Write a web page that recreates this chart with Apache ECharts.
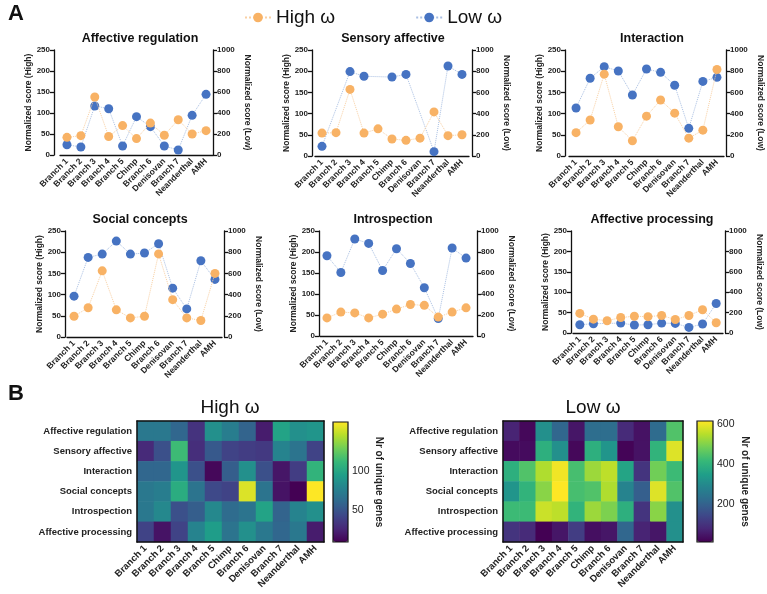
<!DOCTYPE html>
<html>
<head>
<meta charset="utf-8">
<script src="https://cdn.jsdelivr.net/npm/echarts@6/dist/echarts.min.js"></script>
<style>
html,body{margin:0;padding:0;background:#fff}
#main{width:767px;height:594px}
</style>
</head>
<body>
<div id="main"></div>
<script>
// categories
var categories = ['Branch 1','Branch 2','Branch 3','Branch 4','Branch 5','Chimp','Branch 6','Denisovan','Branch 7','Neanderthal','AMH'];
var domains = ['Affective regulation','Sensory affective','Interaction','Social concepts','Introspection','Affective processing'];

// normalized scores (high on left axis, low on right axis)
var highAffectiveRegulation = [42, 46, 138, 44, 70, 39, 76, 47, 84, 50, 58];
var lowAffectiveRegulation  = [98, 76, 467, 441, 86, 365, 270, 86, 48, 378, 578];
var highSensoryAffective    = [54, 55, 157, 54, 64, 40, 37, 42, 104, 48, 50];
var lowSensoryAffective     = [91, null, 796, 752, null, 745, 770, null, 41, 849, 770];
var highInteraction         = [55, 85, 193, 69, 36, 94, 132, 101, 42, 61, 204];
var lowInteraction          = [453, 733, 843, 802, 575, 821, 789, 667, 261, 704, 742];
var highSocialConcepts      = [49, 69, 156, 64, 45, 49, 196, 88, 45, 39, 150];
var lowSocialConcepts       = [385, 751, 782, 905, 782, 792, 880, 461, 265, 719, 543];
var highIntrospection       = [43, 57, 55, 43, 52, 64, 75, 73, 45, 57, 67];
var lowIntrospection        = [764, 605, 924, 882, 624, 831, 691, 459, 166, 838, 742];
var highAffectiveProcessing = [48, 34, 30, 38, 41, 40, 43, 33, 43, 57, 25];
var lowAffectiveProcessing  = [81, 91, null, 97, 78, 81, 97, 94, 55, 88, 289];

// nr of unique genes (rows = domains, cols = categories)
var highGenes = [
  [71, 71, 60, 32, 86, 74, 58, 21, 98, 86, 89],
  [27, 47, 114, 29, 52, 40, 37, 35, 78, 68, 40],
  [60, 60, 89, 47, 12, 55, 86, 47, 18, 37, 109],
  [71, 74, 104, 68, 43, 40, 155, 68, 17, 9, 163],
  [71, 81, 47, 55, 81, 63, 68, 98, 58, 78, 86],
  [40, 17, 40, 78, 94, 68, 86, 71, 60, 71, 21]
];
var lowGenes = [
  [70, 22, 312, 210, 46, 228, 228, 83, 40, 222, 446],
  [28, 28, 391, 312, 22, 391, 325, 16, 40, 403, 585],
  [391, 446, 542, 603, 434, 524, 555, 361, 101, 482, 421],
  [325, 403, 506, 615, 434, 446, 542, 282, 192, 585, 446],
  [421, 421, 567, 555, 403, 524, 494, 391, 101, 506, 312],
  [101, 83, 10, 46, 119, 34, 46, 210, 70, 46, 312]
];
var highRange = [9, 163];
var lowRange = [10, 615];
var highTicks = [50, 100];
var lowTicks = [200, 400, 600];

var FONT = 'Liberation Sans, Arial, sans-serif';
var ORANGE = '#f8b265', BLUE = '#4673c2';
var viridis = ['#440154','#482878','#3e4989','#31688e','#26828e','#1f9e89','#35b779','#6ece58','#b5de2b','#fde725'];

var panels = [
  ['Affective regulation', highAffectiveRegulation, lowAffectiveRegulation],
  ['Sensory affective', highSensoryAffective, lowSensoryAffective],
  ['Interaction', highInteraction, lowInteraction],
  ['Social concepts', highSocialConcepts, lowSocialConcepts],
  ['Introspection', highIntrospection, lowIntrospection],
  ['Affective processing', highAffectiveProcessing, lowAffectiveProcessing]
];
// left, top, width, height, left axis offset, right axis offset, title x, title y
var boxes = [
  [60, 50, 153, 105, 6, 0, 140, 32],
  [315, 50, 154, 106, 3, 3, 393, 32],
  [569, 50, 155, 106, 4, 2, 652, 32],
  [67, 231, 155, 106, 2, 2, 140, 213],
  [320, 231, 153, 105, 1, 4, 393, 213],
  [573, 231, 150, 102, 2, 2, 652, 213]
];

var axisCol = '#111';
var grids = [], xAxes = [], yAxes = [], series = [], titles = [];
function plain(v){ return String(v); }

titles.push({text:'A', left:8, top:3, padding:0, textStyle:{fontSize:22, fontWeight:'bold', fontFamily:FONT, color:'#111'}});
titles.push({text:'B', left:8, top:383, padding:0, textStyle:{fontSize:22, fontWeight:'bold', fontFamily:FONT, color:'#111'}});

panels.forEach(function(p, i){
  var b = boxes[i];
  grids.push({left:b[0], top:b[1], width:b[2], height:b[3], containLabel:false});
  titles.push({text:p[0], left:b[6], top:b[7], padding:0, textAlign:'center',
    textStyle:{fontSize:12.5, fontWeight:'bold', fontFamily:FONT, color:'#111'}});
  xAxes.push({
    gridIndex:i, type:'category', data:categories, boundaryGap:true,
    axisLine:{lineStyle:{color:axisCol, width:1.3}},
    axisTick:{alignWithLabel:true, length:4, lineStyle:{color:axisCol, width:1.3}},
    axisLabel:{rotate:45, interval:0, fontSize:8.5, fontWeight:'bold', color:'#222', fontFamily:FONT, margin:5}
  });
  yAxes.push({
    gridIndex:i, type:'value', min:0, max:250, interval:50, position:'left', offset:b[4],
    name:'Normalized score (High)', nameLocation:'middle', nameGap:21,
    nameTextStyle:{fontSize:8.5, fontWeight:'bold', color:'#222', fontFamily:FONT},
    axisLine:{show:true, lineStyle:{color:axisCol, width:1.3}},
    axisTick:{show:true, length:4, lineStyle:{color:axisCol, width:1.3}},
    splitLine:{show:false},
    axisLabel:{fontSize:8, fontWeight:'bold', color:'#222', fontFamily:FONT, margin:4, formatter:plain}
  });
  yAxes.push({
    gridIndex:i, type:'value', min:0, max:1000, interval:200, position:'right', offset:b[5],
    name:'Normalized score (Low)', nameLocation:'middle', nameGap:30, nameRotate:-90,
    nameTextStyle:{fontSize:8.5, fontWeight:'bold', color:'#222', fontFamily:FONT},
    axisLine:{show:true, lineStyle:{color:axisCol, width:1.3}},
    axisTick:{show:true, length:4, lineStyle:{color:axisCol, width:1.3}},
    splitLine:{show:false},
    axisLabel:{fontSize:8, fontWeight:'bold', color:'#222', fontFamily:FONT, margin:4, formatter:plain}
  });
  series.push({
    name:'Low ω', type:'line', xAxisIndex:i, yAxisIndex:2*i+1, data:p[2], connectNulls:true,
    symbol:'circle', symbolSize:9, z:2,
    itemStyle:{color:BLUE}, lineStyle:{color:'#a9bfe3', width:1, type:'dotted'}
  });
  series.push({
    name:'High ω', type:'line', xAxisIndex:i, yAxisIndex:2*i, data:p[1], connectNulls:true,
    symbol:'circle', symbolSize:9, z:3,
    itemStyle:{color:ORANGE}, lineStyle:{color:'#f9d0a3', width:1, type:'dotted'}
  });
});

// heatmaps
var heatBoxes = [[137, 421, 187, 121, 230, 'High ω'], [503, 421, 180, 121, 593, 'Low ω']];
var barBoxes = [[333, 422, 15, 120, 25], [697, 421, 16, 121, 27]];
var heatData = [highGenes, lowGenes];
var ranges = [highRange, lowRange];
var tickSets = [highTicks, lowTicks];

heatBoxes.forEach(function(h, k){
  var gi = grids.length;
  grids.push({left:h[0], top:h[1], width:h[2], height:h[3]});
  titles.push({text:h[5], left:h[4], top:398, padding:0, textAlign:'center',
    textStyle:{fontSize:19, fontWeight:'normal', fontFamily:FONT, color:'#111'}});
  var xi = xAxes.length;
  xAxes.push({
    gridIndex:gi, type:'category', data:categories, position:'bottom', z:10,
    axisLine:{lineStyle:{color:axisCol, width:1.5}},
    axisTick:{alignWithLabel:true, length:4, lineStyle:{color:axisCol, width:1.3}},
    axisLabel:{rotate:45, interval:0, fontSize:9.5, fontWeight:'bold', color:'#222', fontFamily:FONT, margin:5},
    splitLine:{show:false}
  });
  xAxes.push({
    gridIndex:gi, type:'category', data:categories, position:'top', z:10,
    axisLine:{lineStyle:{color:axisCol, width:1.5}}, axisTick:{show:false}, axisLabel:{show:false}
  });
  var yi = yAxes.length;
  yAxes.push({
    gridIndex:gi, type:'category', data:domains, inverse:true, position:'left', z:10,
    axisLine:{lineStyle:{color:axisCol, width:1.5}},
    axisTick:{alignWithLabel:true, length:4, lineStyle:{color:axisCol, width:1.3}},
    axisLabel:{fontSize:9.5, fontWeight:'bold', color:'#222', fontFamily:FONT, margin:5},
    splitLine:{show:false}
  });
  yAxes.push({
    gridIndex:gi, type:'category', data:domains, inverse:true, position:'right', z:10,
    axisLine:{lineStyle:{color:axisCol, width:1.5}}, axisTick:{show:false}, axisLabel:{show:false}
  });
  var cells = [];
  heatData[k].forEach(function(row, r){
    row.forEach(function(v, c){ cells.push([c, r, v]); });
  });
  series.push({
    name:h[5], type:'heatmap', xAxisIndex:xi, yAxisIndex:yi, data:cells,
    itemStyle:{borderWidth:0}, emphasis:{disabled:true}
  });

  // colour bar axis
  var bb = barBoxes[k];
  var cg = grids.length;
  grids.push({left:bb[0], top:bb[1], width:bb[2], height:bb[3], show:true, z:10,
    backgroundColor:'transparent', borderColor:axisCol, borderWidth:1.2});
  xAxes.push({gridIndex:cg, type:'value', show:false, min:0, max:1});
  yAxes.push({
    gridIndex:cg, type:'value', min:ranges[k][0], max:ranges[k][1], position:'right',
    name:'Nr of unique genes', nameLocation:'middle', nameGap:bb[4], nameRotate:-90,
    nameTextStyle:{fontSize:10, fontWeight:'bold', color:'#222', fontFamily:FONT},
    axisLine:{show:false}, splitLine:{show:false},
    axisTick:{show:true, length:3, customValues:tickSets[k], lineStyle:{color:axisCol, width:1.2}},
    axisLabel:{fontSize:10.5, color:'#222', fontFamily:FONT, margin:4, customValues:tickSets[k]}
  });
});

var visualMaps = [0, 1].map(function(k){
  var bb = barBoxes[k];
  return {
    type:'continuous', seriesIndex:12 + k, min:ranges[k][0], max:ranges[k][1],
    orient:'vertical', left:bb[0], top:bb[1], itemWidth:bb[2], itemHeight:bb[3],
    padding:0, calculable:false, hoverLink:false,
    inRange:{color:viridis}, textStyle:{fontSize:0}
  };
});

var chart = echarts.init(document.getElementById('main'));
chart.setOption({
  animation:false,
  backgroundColor:'#fff',
  title:titles,
  legend:{
    data:['High ω','Low ω'], left:239, top:3, itemWidth:26, itemHeight:12, itemGap:80,
    textStyle:{fontSize:19, fontFamily:FONT, color:'#111'}
  },
  grid:grids,
  xAxis:xAxes,
  yAxis:yAxes,
  visualMap:visualMaps,
  series:series
});
</script>
</body>
</html>
